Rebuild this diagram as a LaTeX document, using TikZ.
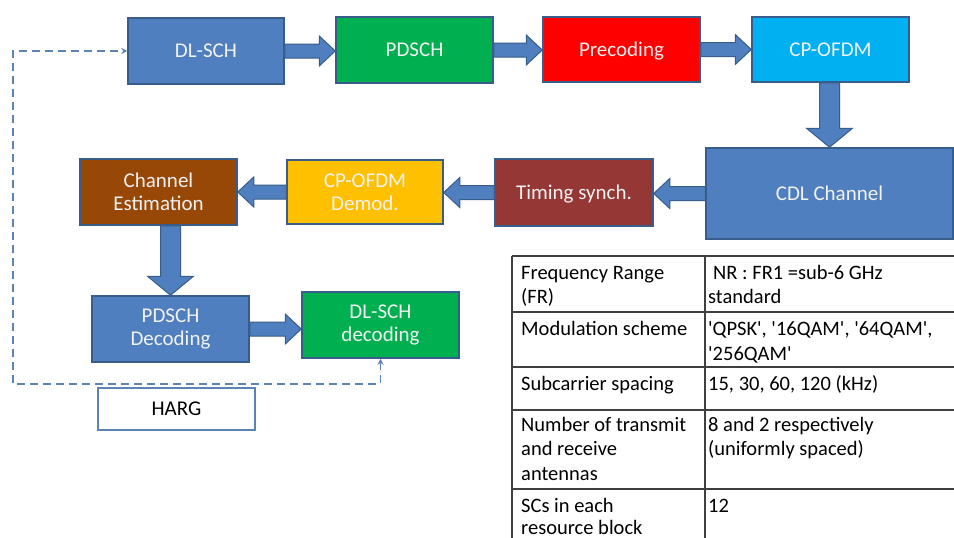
\documentclass[tikz,border=0pt]{standalone}
\usepackage{fontspec}
\setmainfont{Carlito}
\usetikzlibrary{arrows.meta,calc}
\definecolor{bblue}{HTML}{4F7FBE}
\definecolor{bborder}{HTML}{385D8A}
\definecolor{bgreen}{HTML}{00B050}
\definecolor{bred}{HTML}{FF0000}
\definecolor{bcyan}{HTML}{00B0F0}
\definecolor{btiming}{HTML}{953735}
\definecolor{byellow}{HTML}{FFC000}
\definecolor{bbrown}{HTML}{974706}
\definecolor{dashcol}{HTML}{5B84B5}
\definecolor{tablecol}{HTML}{404040}
\newcommand\sq{\textquotesingle}
\tikzset{
  blockbox/.style={draw=bborder, line width=1.5pt, text=white!95!black, align=center,
    font=\fontsize{21}{23}\selectfont, inner sep=0pt},
  oneline/.style={text height=13.5pt, text depth=0pt},
  fatarrow/.style={draw=bborder, fill=bblue, line width=1pt, line join=miter},
  hargline/.style={draw=dashcol, line width=1.5pt, dash pattern=on 8pt off 5pt},
  celltext/.style={anchor=base west, inner sep=0pt, font=\fontsize{20.5}{24}\selectfont, text=black},
  tableline/.style={draw=tablecol, line width=1.3pt}
}
% right-pointing fat arrow, at height of source centre
\newcommand\fatR[2]{%
  \path[fatarrow] let \p1=(#1.east), \p2=(#2.west) in
   (\x1,\y1+7pt) -- (\x2-16pt,\y1+7pt) -- (\x2-16pt,\y1+15pt) -- (\x2,\y1)
   -- (\x2-16pt,\y1-15pt) -- (\x2-16pt,\y1-7pt) -- (\x1,\y1-7pt) -- cycle;}
% left-pointing fat arrow
\newcommand\fatL[2]{%
  \path[fatarrow] let \p1=(#1.west), \p2=(#2.east) in
   (\x1,\y1+7pt) -- (\x2+16pt,\y1+7pt) -- (\x2+16pt,\y1+15pt) -- (\x2,\y1)
   -- (\x2+16pt,\y1-15pt) -- (\x2+16pt,\y1-7pt) -- (\x1,\y1-7pt) -- cycle;}
% down-pointing fat arrow, at x of target centre
\newcommand\fatD[2]{%
  \path[fatarrow] let \p1=(#1.south), \p2=(#2.north) in
   (\x2-10pt,\y1) -- (\x2-10pt,\y2+19pt) -- (\x2-23pt,\y2+19pt) -- (\x2,\y2)
   -- (\x2+23pt,\y2+19pt) -- (\x2+10pt,\y2+19pt) -- (\x2+10pt,\y1) -- cycle;}
\begin{document}
\begin{tikzpicture}[x=1pt,y=-1pt]
\useasboundingbox[fill=white] (0,0) rectangle (954,538);

% top row
\node[blockbox, oneline, fill=bblue, minimum width=156pt, minimum height=66pt] (dlsch) at (206,51) {DL-SCH};
\node[blockbox, oneline, fill=bgreen, minimum width=157pt, minimum height=66pt] (pdsch) at (414.5,50) {PDSCH};
\node[blockbox, oneline, fill=bred, minimum width=157pt, minimum height=65pt] (prec) at (621.5,49.5) {Precoding};
\node[blockbox, oneline, fill=bcyan, minimum width=157pt, minimum height=65pt] (cpofdm) at (830.5,49.5) {CP-OFDM};

% middle row
\node[blockbox, oneline, fill=bblue, minimum width=247pt, minimum height=91pt] (cdl) at (829.5,193.5) {CDL Channel};
\node[blockbox, oneline, fill=btiming, minimum width=158pt, minimum height=67pt] (timing) at (574,192.5) {Timing synch.};
\node[blockbox, fill=byellow, minimum width=156pt, minimum height=64pt] (demod) at (365,192) {CP-OFDM\\Demod.};
\node[blockbox, fill=bbrown, minimum width=157pt, minimum height=66pt] (chest) at (158.5,192) {Channel\\Estimation};

% bottom row
\node[blockbox, fill=bblue, minimum width=157pt, minimum height=66pt] (pdschdec) at (170.5,329) {PDSCH\\Decoding};
\node[blockbox, fill=bgreen, minimum width=157pt, minimum height=66pt] (dlschdec) at (380.5,325) {DL-SCH\\decoding};
\node[draw=dashcol, line width=1.3pt, fill=white, minimum width=157pt, minimum height=42pt, inner sep=0pt,
      oneline, font=\fontsize{21}{23}\selectfont] (harg) at (176.5,409) {HARG};

% fat arrows
\fatR{dlsch}{pdsch}
\fatR{pdsch}{prec}
\fatR{prec}{cpofdm}
\fatD{cpofdm}{cdl}
\fatL{cdl}{timing}
\fatL{timing}{demod}
\fatL{demod}{chest}
\fatD{chest}{pdschdec}
\fatR{pdschdec}{dlschdec}

% HARQ feedback dashed loop
\coordinate (lb) at (13,384);
\coordinate (lt) at (13,51);
\draw[hargline, {Stealth[length=6pt,width=6pt]}-{Stealth[length=6pt,width=6pt]}]
  (dlschdec.south) -- (dlschdec.south |- lb) -- (lb) -- (lt) -- (dlsch.west);

% table
\draw[tableline] (512,256) -- (954,256);
\draw[tableline] (512,312) -- (954,312);
\draw[tableline] (512,367) -- (954,367);
\draw[tableline] (512,410) -- (954,410);
\draw[tableline] (512,489) -- (954,489);
\draw[tableline] (512,256) -- (512,538);
\draw[tableline] (705,256) -- (705,538);

\node[celltext] (r1a) at (521,279) {Frequency Range};
\node[celltext] (r1b) at (521,303) {(FR)};
\node[celltext] (r1c) at (713,279) {NR : FR1 =sub-6 GHz};
\node[celltext] (r1d) at (708,303) {standard};

\node[celltext] (r2a) at (521,335) {Modulation scheme};
\node[celltext] (r2c) at (708,335) {\sq QPSK\sq, \sq 16QAM\sq, \sq 64QAM\sq,};
\node[celltext] (r2d) at (708,360) {\sq 256QAM\sq};

\node[celltext] (r3a) at (521,390) {Subcarrier spacing};
\node[celltext] (r3c) at (708,390) {15, 30, 60, 120 (kHz)};

\node[celltext] (r4a) at (521,431) {Number of transmit};
\node[celltext] (r4b) at (521,455.5) {and receive};
\node[celltext] (r4e) at (521,480) {antennas};
\node[celltext] (r4c) at (708,431) {8 and 2 respectively};
\node[celltext] (r4d) at (708,455.5) {(uniformly spaced)};

\node[celltext] (r5a) at (521,512) {SCs in each};
\node[celltext] (r5b) at (521,534) {resource block};
\node[celltext] (r5c) at (708,512) {12};
\end{tikzpicture}
\end{document}
